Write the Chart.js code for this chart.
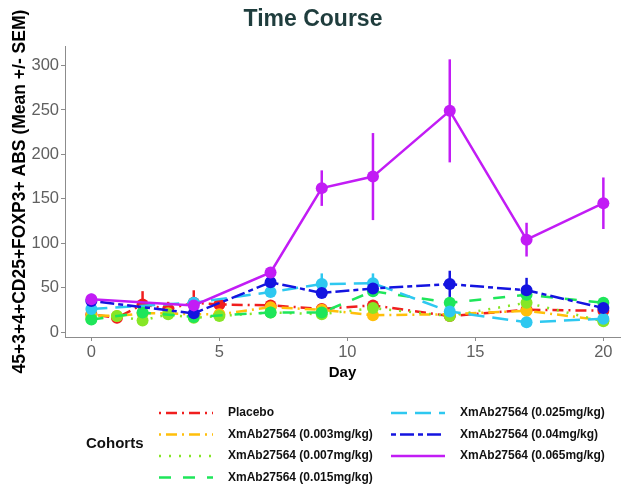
<!DOCTYPE html>
<html>
<head>
<meta charset="utf-8">
<script src="https://cdn.jsdelivr.net/npm/chart.js@4"></script>
<style>
  html, body { margin: 0; padding: 0; background: #fff; }
  #wrap { width: 626px; height: 489px; }
</style>
</head>
<body>
<div id="wrap"><canvas id="timeCourse" width="626" height="489"></canvas></div>
<script>
// cohort labels
const cohorts = [
    'Placebo',
    'XmAb27564 (0.003mg/kg)',
    'XmAb27564 (0.007mg/kg)',
    'XmAb27564 (0.015mg/kg)',
    'XmAb27564 (0.025mg/kg)',
    'XmAb27564 (0.04mg/kg)',
    'XmAb27564 (0.065mg/kg)'
];

// study days per cohort
const placeboDays = [0, 1, 2, 3, 4, 5, 7, 9, 11, 14, 17, 20];
const dose003Days = [0, 1, 2, 3, 4, 5, 7, 9, 11, 14, 17, 20];
const dose007Days = [0, 1, 2, 3, 4, 5, 7, 9, 11, 14, 17, 20];
const dose015Days = [0, 2, 4, 7, 9, 11, 14, 17, 20];
const dose025Days = [0, 4, 7, 9, 11, 14, 17, 20];
const dose04Days = [0, 4, 7, 9, 11, 14, 17, 20];
const dose065Days = [0, 4, 7, 9, 11, 14, 17, 20];

// means
const placeboMean = [20, 16, 31, 26, 33, 31, 30, 26, 30, 18, 25, 24];
const dose003Mean = [19, 18, 21, 21, 20, 20, 28, 25, 19, 20, 24, 13];
const dose007Mean = [15, 18, 13, 20, 16, 18, 22, 20, 27, 18, 33, 12];
const dose015Mean = [14, 22, 17, 22, 22, 46, 33, 42, 33];
const dose025Mean = [26, 33, 45, 54, 55, 23, 11, 15];
const dose04Mean = [35, 21, 56, 44, 49, 54, 47, 27];
const dose065Mean = [37, 30, 67, 162, 175, 249, 104, 145];

// SEM
const placeboSem = [3, 6, 15, 8, 14, 4, 4, 3, 5, 3, 3, 3];
const dose003Sem = [3, 3, 4, 3, 3, 3, 4, 3, 3, 3, 3, 3];
const dose007Sem = [3, 3, 4, 3, 3, 3, 3, 3, 3, 3, 3, 3];
const dose015Sem = [3, 4, 3, 3, 3, 4, 5, 4, 5];
const dose025Sem = [3, 3, 4, 12, 11, 4, 3, 4];
const dose04Sem = [8, 3, 4, 5, 5, 15, 14, 4];
const dose065Sem = [4, 3, 5, 20, 49, 58, 19, 29];

const xTicks = [0, 5, 10, 15, 20];
const yTicks = [0, 50, 100, 150, 200, 250, 300];

const colors = ['#f01e1e', '#ffbf0a', '#86e626', '#1ee65a', '#2ec8f0', '#1414e0', '#c21cf5'];
const dashes = [[2, 5, 11, 5], [2, 5, 11, 5], [2, 8], [12, 12], [16, 8], [5, 4, 14, 4], []];

const allDays = [placeboDays, dose003Days, dose007Days, dose015Days, dose025Days, dose04Days, dose065Days];
const allMean = [placeboMean, dose003Mean, dose007Mean, dose015Mean, dose025Mean, dose04Mean, dose065Mean];
const allSem = [placeboSem, dose003Sem, dose007Sem, dose015Sem, dose025Sem, dose04Sem, dose065Sem];

const FONT = '"Liberation Sans", Arial, sans-serif';

const datasets = cohorts.map(function (name, i) {
    return {
        label: name,
        data: allDays[i].map(function (d, j) { return { x: d, y: allMean[i][j] }; }),
        sem: allSem[i],
        borderColor: colors[i],
        backgroundColor: colors[i],
        borderDash: dashes[i],
        borderWidth: 2.5,
        pointRadius: 6,
        pointBorderWidth: 0,
        pointBackgroundColor: colors[i],
        tension: 0,
        order: cohorts.length - i
    };
});

// vertical mean +/- SEM bars
const errorBars = {
    id: 'errorBars',
    beforeDatasetsDraw(chart) {
        const ctx = chart.ctx;
        const xs = chart.scales.x, ys = chart.scales.y;
        ctx.save();
        chart.data.datasets.forEach(function (ds) {
            ctx.strokeStyle = ds.borderColor;
            ctx.lineWidth = 2.5;
            ctx.setLineDash([]);
            ds.data.forEach(function (p, j) {
                const px = xs.getPixelForValue(p.x);
                ctx.beginPath();
                ctx.moveTo(px, ys.getPixelForValue(p.y - ds.sem[j]));
                ctx.lineTo(px, ys.getPixelForValue(p.y + ds.sem[j]));
                ctx.stroke();
            });
        });
        ctx.restore();
    }
};

// two-column legend under the plot
const cohortLegend = {
    id: 'cohortLegend',
    afterDraw(chart) {
        const ctx = chart.ctx;
        ctx.save();
        ctx.fillStyle = '#111';
        ctx.font = 'bold 15px ' + FONT;
        ctx.textBaseline = 'middle';
        ctx.fillText('Cohorts', 86, 444);
        ctx.font = 'bold 12px ' + FONT;
        chart.data.datasets.forEach(function (ds, i) {
            const col = i < 4 ? 0 : 1;
            const row = i < 4 ? i : i - 4;
            const x0 = col === 0 ? 159 : 391;
            const y = 413 + row * 21.5;
            ctx.strokeStyle = ds.borderColor;
            ctx.lineWidth = 2.5;
            ctx.setLineDash(ds.borderDash);
            ctx.beginPath();
            ctx.moveTo(x0, y);
            ctx.lineTo(x0 + 54, y);
            ctx.stroke();
            ctx.fillStyle = '#111';
            ctx.fillText(ds.label, x0 + 69, y);
        });
        ctx.restore();
    }
};

new Chart(document.getElementById('timeCourse'), {
    type: 'line',
    data: { datasets: datasets },
    plugins: [errorBars, cohortLegend],
    options: {
        responsive: false,
        animation: false,
        layout: { padding: { left: 0, right: 0, top: 0, bottom: 107 } },
        plugins: {
            legend: { display: false },
            tooltip: { enabled: false },
            title: {
                display: true,
                text: 'Time Course',
                color: '#1f3d3d',
                font: { family: FONT, size: 23, weight: 'bold' },
                padding: { top: 6, bottom: 12.5 }
            }
        },
        scales: {
            x: {
                type: 'linear',
                min: -1.03,
                max: 20.65,
                afterBuildTicks(scale) { scale.ticks = xTicks.map(function (v) { return { value: v }; }); },
                afterFit(scale) { scale.height = 45; },
                grid: { drawOnChartArea: false, drawTicks: true, tickLength: 4, color: '#8c8c8c' },
                border: { color: '#8c8c8c', width: 1 },
                ticks: { color: '#606060', font: { family: FONT, size: 16.5 }, padding: 2 },
                title: {
                    display: true,
                    text: 'Day',
                    color: '#000',
                    font: { family: FONT, size: 15, weight: 'bold' },
                    padding: { top: 0, bottom: 0 }
                }
            },
            y: {
                type: 'linear',
                min: -5.6,
                max: 321.9,
                afterBuildTicks(scale) { scale.ticks = yTicks.map(function (v) { return { value: v }; }); },
                afterFit(scale) { scale.width = 65; },
                grid: { drawOnChartArea: false, drawTicks: true, tickLength: 4, color: '#8c8c8c' },
                border: { color: '#8c8c8c', width: 1 },
                ticks: { color: '#606060', font: { family: FONT, size: 16.5 }, padding: 2 },
                title: {
                    display: true,
                    text: '45+3+4+CD25+FOXP3+ ABS (Mean +/- SEM)',
                    color: '#000',
                    font: { family: FONT, size: 17.5, weight: 'bold' },
                    padding: { top: 10, bottom: 0 }
                }
            }
        }
    }
});
</script>
</body>
</html>
